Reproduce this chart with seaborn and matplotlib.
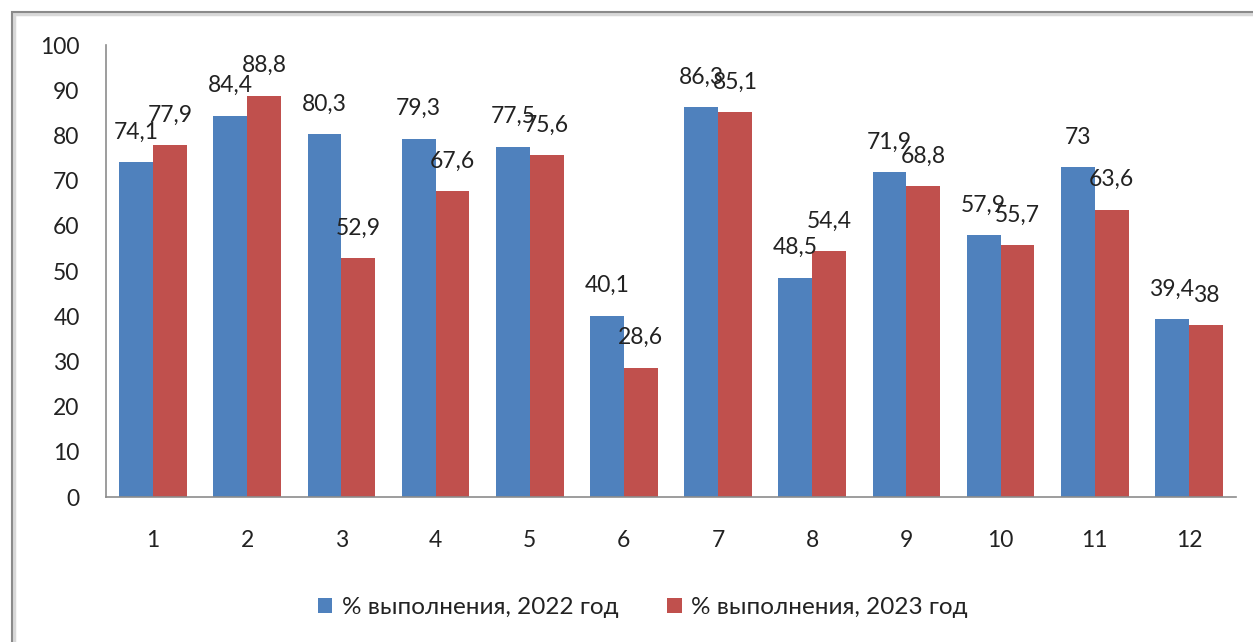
import matplotlib
matplotlib.use("Agg")
import matplotlib.pyplot as plt
import seaborn as sns
import pandas as pd
from matplotlib.patches import Rectangle

categories = ["1", "2", "3", "4", "5", "6", "7", "8", "9", "10", "11", "12"]
values_2022 = [74.1, 84.4, 80.3, 79.3, 77.5, 40.1, 86.3, 48.5, 71.9, 57.9, 73, 39.4]
values_2023 = [77.9, 88.8, 52.9, 67.6, 75.6, 28.6, 85.1, 54.4, 68.8, 55.7, 63.6, 38]
series_names = ["% выполнения, 2022 год", "% выполнения, 2023 год"]
colors = ["#4F81BD", "#C0504D"]

df = pd.DataFrame({
    "cat": categories * 2,
    "val": values_2022 + values_2023,
    "series": [series_names[0]] * len(categories) + [series_names[1]] * len(categories),
})

sns.set_style("white")
plt.rcParams["font.family"] = ["Lato", "DejaVu Sans"]

fig = plt.figure(figsize=(12.53, 6.42), dpi=100)
ax = fig.add_axes([106 / 1253, 1 - 497 / 642, (1236 - 106) / 1253, (497 - 45) / 642])

sns.barplot(data=df, x="cat", y="val", hue="series", palette=colors,
            width=0.72, saturation=1, ax=ax, order=categories,
            hue_order=series_names, edgecolor="none")

def fmt(v):
    s = ("%g" % v).replace(".", ",")
    return s

for container in ax.containers:
    labels = [fmt(b.get_height()) for b in container]
    ax.bar_label(container, labels=labels, padding=14, fontsize=16.5, color="#222222")

ax.set_ylim(0, 100)
ax.set_yticks(range(0, 101, 10))
ax.set_xlabel("")
ax.set_ylabel("")
ax.tick_params(axis="y", length=0, pad=19, labelsize=16.5, labelcolor="#222222")
ax.tick_params(axis="x", length=0, pad=24, labelsize=16.5, labelcolor="#222222")
for s in ["top", "right"]:
    ax.spines[s].set_visible(False)
for s in ["left", "bottom"]:
    ax.spines[s].set_color("#8C8C8C")
    ax.spines[s].set_linewidth(1.2)

leg = ax.legend(loc="center", bbox_to_anchor=(0.475, -0.245), ncol=2, frameon=False,
                fontsize=17.5, handlelength=0.6, handleheight=0.6, handletextpad=0.4,
                columnspacing=2.0, labelcolor="#222222")

# outer frame (with light shadow)
fig.add_artist(Rectangle((14 / 1253, -0.05), 1.1, 1 - 14 / 642 + 0.05,
                         transform=fig.transFigure, fill=False,
                         edgecolor="#D8D8D8", linewidth=2.5, zorder=0))
fig.add_artist(Rectangle((12 / 1253, -0.05), 1.1, 1 - 12 / 642 + 0.05,
                         transform=fig.transFigure, fill=False,
                         edgecolor="#8A8A8A", linewidth=1.5, zorder=1))

fig.savefig("out.png", dpi=100)
